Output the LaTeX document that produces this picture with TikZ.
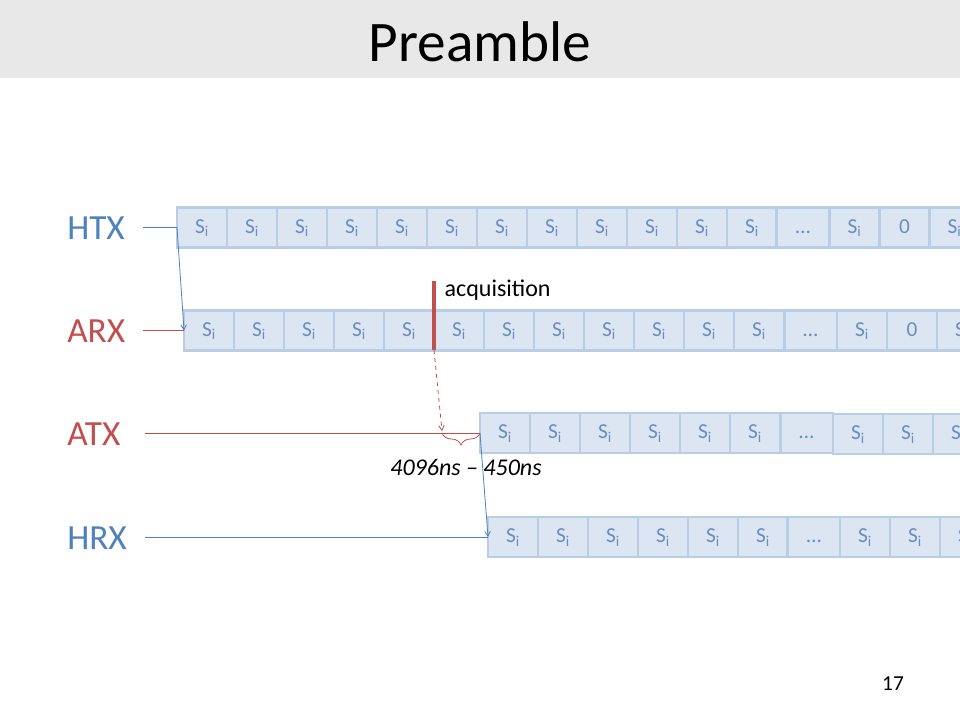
\documentclass[tikz,border=0pt]{standalone}
\usepackage{fontspec}
\setmainfont{Carlito}
\usepackage{pgf,tikz}
\usetikzlibrary{arrows}
\usetikzlibrary{decorations.pathreplacing}
\definecolor{slotfill}{HTML}{DCE6F2}
\definecolor{slotline}{HTML}{B9CDE5}
\definecolor{slottext}{HTML}{6A8CBF}
\definecolor{hblue}{HTML}{4F81BD}
\definecolor{ared}{HTML}{C0504D}
\definecolor{band}{HTML}{E8E8E8}
\tikzset{
  slot/.style = {draw=slotline, fill=slotfill, line width=2pt, minimum width=37.5pt,
    minimum height=30pt, inner sep=0pt, outer sep=0pt, text=slottext,
    text height=10.3pt, text depth=1.6pt,
    font={\fontsize{16pt}{19pt}\selectfont}},
  wideslot/.style = {slot, minimum width=39.5pt},
  rowlabel/.style = {anchor=west, inner sep=0pt, font={\fontsize{26.5pt}{32pt}\selectfont}}}
\newcommand{\si}{S\textsubscript{i}}

\begin{document}
\begin{tikzpicture}[x=0.75pt, y=-0.75pt]

    \tikzset{edge/.style = {->, > = angle 60, line width=0.6pt}}
    \useasboundingbox (0,0) rectangle (960,720);
    \clip (0,0) rectangle (960,720);

    % title
    \fill[band] (0,0) rectangle (960,78);
    \node[font={\fontsize{43pt}{52pt}\selectfont}] (title) at (480,42) {Preamble};

    % row labels
    \node[rowlabel, text=hblue] (htx) at (67,228) {HTX};
    \node[rowlabel, text=ared] (arx) at (67,331) {ARX};
    \node[rowlabel, text=ared] (atx) at (67,434) {ATX};
    \node[rowlabel, text=hblue] (hrx) at (67,538) {HRX};

    % HTX slots
    \foreach \i in {1,...,12}
      \node[slot] (h\i) at ({152+50*\i},227.5) {\si};
    \node[wideslot] (hdots) at (803,227.5) {…};
    \node[slot] (h13) at (854.5,227.5) {\si};
    \node[slot] (hzero) at (904.5,227.5) {0};
    \node[slot] (h14) at (954.5,227.5) {\si};

    % ARX slots
    \foreach \i in {1,...,12}
      \node[slot] (a\i) at ({159+50*\i},330.5) {\si};
    \node[wideslot] (adots) at (810.5,330.5) {…};
    \node[slot] (a13) at (862,330.5) {\si};
    \node[slot] (azero) at (912,330.5) {0};
    \node[slot] (a14) at (962,330.5) {\si};

    % ATX slots
    \foreach \i in {1,...,6}
      \node[slot] (t\i) at ({455+50*\i},433) {\si};
    \node[wideslot] (tdots) at (806.5,433) {…};
    \node[slot] (t7) at (858,434) {\si};
    \node[slot] (t8) at (908,434) {\si};
    \node[slot] (t9) at (958,434) {\si};

    % HRX slots
    \foreach \i in {1,...,6}
      \node[slot] (r\i) at ({463+50*\i},537) {\si};
    \node[wideslot] (rdots) at (814,537) {…};
    \node[slot] (r7) at (865,537) {\si};
    \node[slot] (r8) at (915,537) {\si};
    \node[slot] (r9) at (965,537) {\si};

    % free ends
    \coordinate (htxin) at (143,227.5);
    \coordinate (arxin) at (143,330.5);
    \coordinate (atxin) at (145,433);
    \coordinate (hrxin) at (145,537);
    \coordinate (acqtop) at (434,281);
    \coordinate (acqbot) at (434,350);
    \coordinate (acqend) at (442,431);
    \coordinate (brl) at (442,433);

    %edges
    \draw[hblue, line width=0.6pt] (htxin) -- (h1.west);
    \draw[edge, hblue] (h1.west) -- (a1.west);
    \draw[ared, line width=0.6pt] (arxin) -- (a1.west);
    \draw[ared, line width=0.6pt] (atxin) -- (t1.west);
    \draw[hblue, line width=0.6pt] (hrxin) -- (r1.west);
    \draw[edge, hblue] (t1.west) -- (r1.west);

    % acquisition
    \draw[ared, line width=3pt] (acqtop) -- (acqbot);
    \node[anchor=west, font={\fontsize{18pt}{22pt}\selectfont}] (acq) at (440,290) {acquisition};
    \draw[edge, ared, dashed] (acqbot) -- (acqend);
    \draw[ared, line width=0.6pt, decorate, decoration={brace, amplitude=9pt, mirror}] (brl) -- (t1.west);
    \node[font={\fontsize{18pt}{22pt}\selectfont\itshape}] (gap) at (466,467) {4096ns – 450ns};

    % page number
    \node[font={\fontsize{16pt}{19pt}\selectfont}] (pagenum) at (893,684) {17};

\end{tikzpicture}
\end{document}
